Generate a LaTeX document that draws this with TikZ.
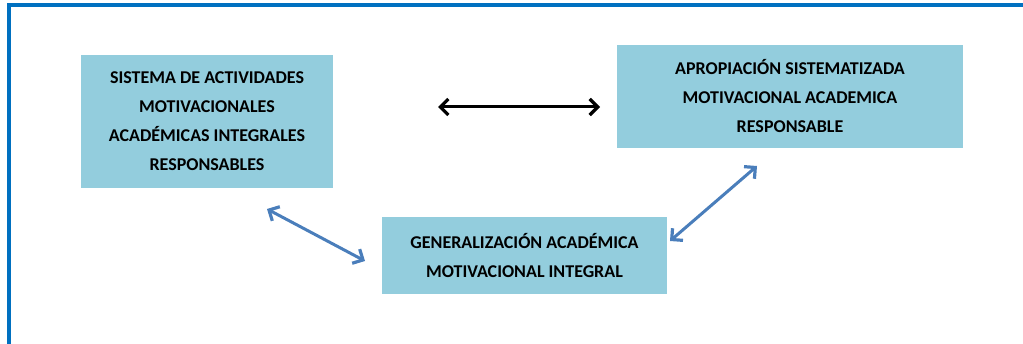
\documentclass[tikz,border=0pt]{standalone}
\usepackage{fontspec}
\setmainfont{Carlito}
\usepackage{xcolor}
\usetikzlibrary{arrows.meta}
\definecolor{framblue}{HTML}{0070C0}
\definecolor{boxblue}{HTML}{93CDDD}
\definecolor{arrblue}{HTML}{4A7EBB}

\begin{document}
\begin{tikzpicture}[x=1pt,y=-1pt,
  concept/.style={fill=boxblue,inner sep=0pt,align=center,
    font=\fontsize{18}{29}\selectfont\bfseries,text=black},
  link/.style={{Straight Barb[length=8pt,width=16pt,line width=3.2pt]}-{Straight Barb[length=8pt,width=16pt,line width=3.2pt]},
    line width=3pt,line join=round}]
  \useasboundingbox (0,0) rectangle (1023,344);
  \draw[framblue,line width=3.8pt] (9.2,350) -- (9.2,5.3) -- (1030,5.3);
  \node[concept,minimum width=252pt,minimum height=133pt] (sistema) at (207,121.5)
    {SISTEMA DE ACTIVIDADES\\MOTIVACIONALES\\ACADÉMICAS INTEGRALES\\RESPONSABLES};
  \node[concept,minimum width=346pt,minimum height=103pt] (apropiacion) at (790,96.5)
    {APROPIACIÓN SISTEMATIZADA\\MOTIVACIONAL ACADEMICA\\RESPONSABLE};
  \node[concept,minimum width=285pt,minimum height=77pt] (generalizacion) at (524.5,255.5)
    {GENERALIZACIÓN ACADÉMICA\\MOTIVACIONAL INTEGRAL};
  % free ends of the arrows
  \coordinate (sa) at (438,107);
  \coordinate (as) at (600,107);
  \coordinate (sg) at (267,209);
  \coordinate (gs) at (365,261);
  \coordinate (ga) at (670,241);
  \coordinate (ag) at (757,166);
  \draw[link,black] (sa) -- (as);
  \draw[link,arrblue] (sg) -- (gs);
  \draw[link,arrblue] (ga) -- (ag);
\end{tikzpicture}
\end{document}
